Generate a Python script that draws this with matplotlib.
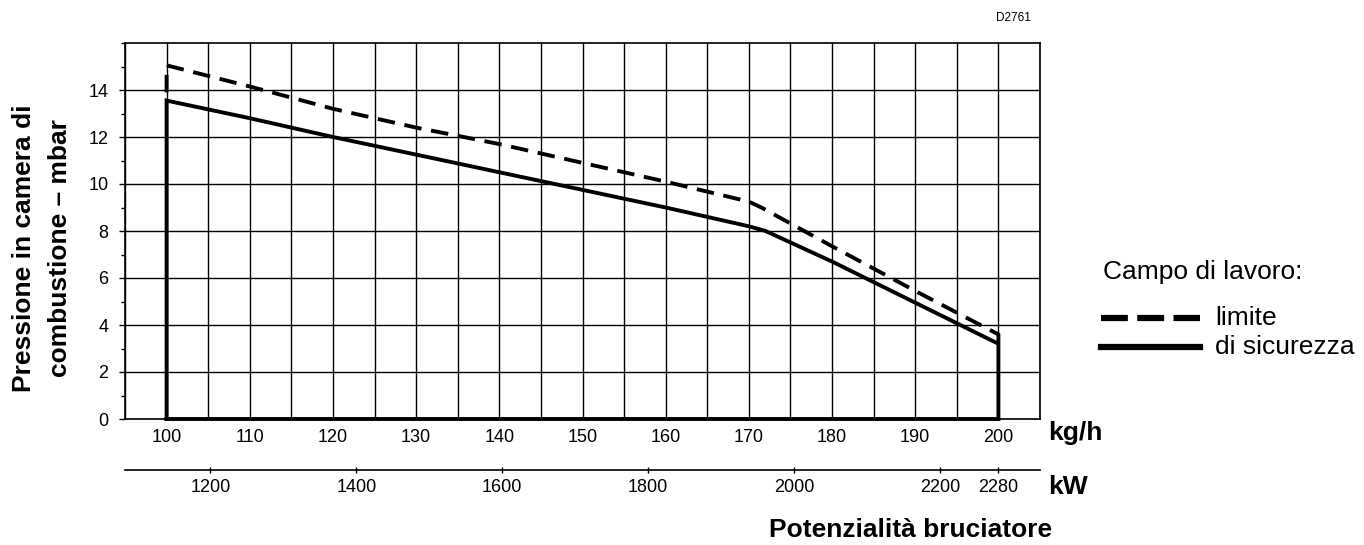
# pressure in combustion chamber vs burner output

import matplotlib.pyplot as plt
from matplotlib.ticker import MultipleLocator

# data (kg/h vs mbar)
limite_x = [100, 100, 110, 120, 130, 140, 150, 160, 170, 171.5, 180, 190, 200, 200]
limite_y = [13.9, 15.05, 14.15, 13.2, 12.4, 11.7, 10.9, 10.1, 9.25, 9.0, 7.35, 5.45, 3.6, 3.2]

sicurezza_x = [100, 100, 110, 120, 130, 140, 150, 160, 165, 170, 172, 180, 190, 200, 200, 100]
sicurezza_y = [0, 13.55, 12.8, 12.0, 11.25, 10.5, 9.75, 9.0, 8.6, 8.2, 8.0, 6.7, 4.95, 3.2, 0, 0]

kgh_ticks = [100, 110, 120, 130, 140, 150, 160, 170, 180, 190, 200]
kw_ticks = [1200, 1400, 1600, 1800, 2000, 2200, 2280]
kw_per_kgh = 11.4

W, H = 1364, 545


def fx(px):
    return px / W


def fy(py):
    return 1 - py / H


def main():
    plt.rcParams['font.family'] = ['Liberation Sans', 'DejaVu Sans']

    fig = plt.figure(figsize=(13.64, 5.45), dpi=100)
    ax = fig.add_axes([fx(125), fy(419), fx(1040) - fx(125), fy(43) - fy(419)])

    ax.set_xlim(95, 205)
    ax.set_ylim(0, 16)

    # grid
    ax.xaxis.set_major_locator(MultipleLocator(10))
    ax.xaxis.set_minor_locator(MultipleLocator(5))
    ax.yaxis.set_major_locator(MultipleLocator(2))
    ax.yaxis.set_minor_locator(MultipleLocator(1))
    ax.grid(which='major', color='black', linewidth=1.0)
    ax.grid(which='minor', axis='x', color='black', linewidth=1.0)
    for s in ax.spines.values():
        s.set_linewidth(1.2)

    ax.set_xticks(kgh_ticks)
    ax.set_xticklabels([str(v) for v in kgh_ticks])
    ax.set_yticks([0, 2, 4, 6, 8, 10, 12, 14])
    ax.tick_params(axis='x', which='both', length=0, pad=7, labelsize=13)
    ax.tick_params(axis='y', which='major', length=4, width=1, pad=8, labelsize=13)
    ax.tick_params(axis='y', which='minor', length=3, width=1)

    # curves
    ax.plot(limite_x, limite_y, color='black', linewidth=2.8,
            linestyle=(0, (4.5, 2.5)), solid_capstyle='butt', zorder=3)
    ax.plot(sicurezza_x, sicurezza_y, color='black', linewidth=2.8,
            solid_joinstyle='miter', clip_on=False, zorder=3)

    # second axis in kW
    sec = ax.secondary_xaxis(-51 / 376, functions=(lambda x: x * kw_per_kgh,
                                                  lambda k: k / kw_per_kgh))
    sec.set_xticks(kw_ticks)
    sec.set_xticklabels([str(v) for v in kw_ticks])
    sec.tick_params(axis='x', direction='inout', length=5, width=1, pad=4, labelsize=13)
    sec.spines['bottom'].set_linewidth(1.2)

    # axis texts
    fig.text(fx(1048), fy(433), 'kg/h', fontsize=19, fontweight='bold', ha='left', va='center')
    fig.text(fx(1048), fy(487), 'kW', fontsize=19, fontweight='bold', ha='left', va='center')
    fig.text(fx(911), fy(530), 'Potenzialità bruciatore', fontsize=19, fontweight='bold',
             ha='center', va='center')
    fig.text(fx(42), fy(248), 'Pressione in camera di\ncombustione – mbar', fontsize=19,
             fontweight='bold', rotation=90, ha='center', va='center', linespacing=1.6)
    fig.text(fx(1013), fy(18), 'D2761', fontsize=8.5, ha='center', va='center')

    # legend
    fig.text(fx(1103), fy(272), 'Campo di lavoro:', fontsize=19, ha='left', va='center')
    fig.add_artist(plt.Line2D([fx(1101), fx(1200)], [fy(318), fy(318)], color='black',
                              linewidth=4.5, linestyle=(0, (4.3, 1.5)), solid_capstyle='butt'))
    fig.add_artist(plt.Line2D([fx(1101), fx(1200)], [fy(347), fy(347)], color='black',
                              linewidth=4.5))
    fig.text(fx(1215), fy(318), 'limite', fontsize=19, ha='left', va='center')
    fig.text(fx(1215), fy(347), 'di sicurezza', fontsize=19, ha='left', va='center')

    fig.savefig('out.png', dpi=100)


main()
